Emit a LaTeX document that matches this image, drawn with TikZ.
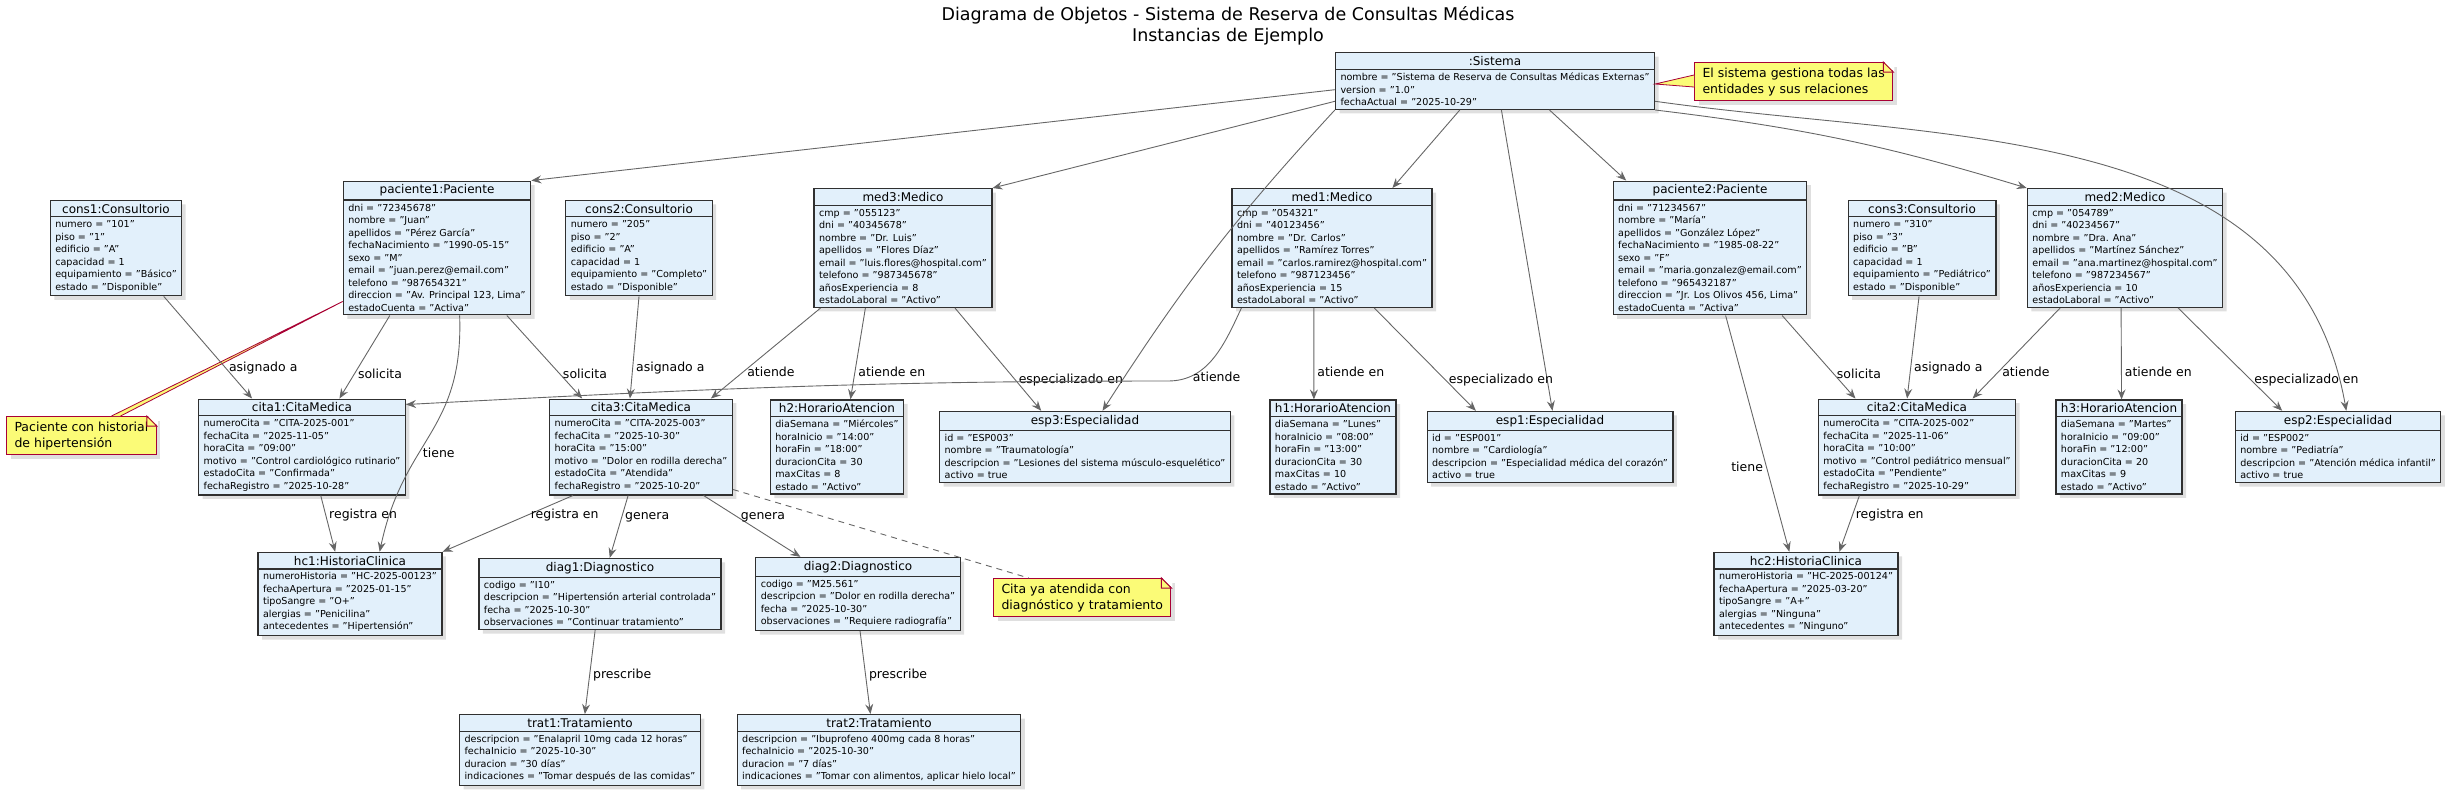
\documentclass[tikz,border=0pt]{standalone}
\usepackage{fontspec}
\setmainfont{DejaVu Sans}
\usetikzlibrary{
    shapes.multipart,
    shadows,
    arrows.meta,
    calc,
    positioning
}
\definecolor{objfill}{HTML}{E2F0FB}
\definecolor{objline}{HTML}{303030}
\definecolor{relline}{HTML}{666666}
\definecolor{notefill}{HTML}{FBFB77}
\definecolor{noteline}{HTML}{A80036}
\newcommand{\attrfont}{\fontsize{9.6}{12.5}\selectfont}
\newcommand{\headfont}{\fontsize{12}{14}\selectfont}
\newcommand{\lblfont}{\fontsize{12.5}{16}\selectfont}
\tikzset{
    obj/.style={rectangle split, rectangle split parts=2,
        rectangle split part align={center,left},
        draw=objline, fill=objfill, line width=1.3pt, align=left,
        inner xsep=5pt, inner ysep=3pt, font=\attrfont,
        drop shadow={shadow xshift=4pt, shadow yshift=-4pt, opacity=.25}},
    rel/.style={draw=relline, line width=.9pt,
        -{Stealth[length=10pt, width=8pt, inset=3.5pt]}},
    lbl/.style={font=\lblfont, inner sep=3pt},
    note/.style={draw=noteline, fill=notefill, line width=1pt, align=left,
        anchor=north west, inner xsep=8pt, inner ysep=5pt, font=\lblfont,
        drop shadow={shadow xshift=4pt, shadow yshift=-4pt, opacity=.25}},
    notelink/.style={draw=noteline, fill=notefill, line width=.8pt}
}
\newcommand{\objbox}[4]{\node[obj] (#1) at (#2) {{\headfont #3}\nodepart{two}#4};}
\newcommand{\notebox}[3]{%
    \node[note] (#1) at (#2) {#3};
    \fill[white] ([xshift=-10pt, yshift=1pt]#1.north east) -- ([xshift=1pt, yshift=1pt]#1.north east)
        -- ([xshift=1pt, yshift=-10pt]#1.north east) -- cycle;
    \draw[notelink, line width=1pt] ([xshift=-10pt]#1.north east) -- ([yshift=-10pt]#1.north east)
        -- ([xshift=-10pt, yshift=-10pt]#1.north east) -- cycle;
}

\begin{document}
\begin{tikzpicture}[x=1pt, y=-1pt]
\useasboundingbox (0,0) rectangle (2456,796);

\node[font=\fontsize{17.5}{21}\selectfont, align=center, anchor=north] (title) at (1228,3)
    {Diagrama de Objetos - Sistema de Reserva de Consultas Médicas\\Instancias de Ejemplo};

% sistema
\objbox{sis}{1495,81}{:Sistema}{nombre = "Sistema de Reserva de Consultas Médicas Externas"\\version = "1.0"\\fechaActual = "2025-10-29"}

% fila 1
\objbox{cons1}{116,248}{cons1:Consultorio}{numero = "101"\\piso = "1"\\edificio = "A"\\capacidad = 1\\equipamiento = "Básico"\\estado = "Disponible"}
\objbox{pac1}{437,248}{paciente1:Paciente}{dni = "72345678"\\nombre = "Juan"\\apellidos = "Pérez García"\\fechaNacimiento = "1990-05-15"\\sexo = "M"\\email = "juan.perez@email.com"\\telefono = "987654321"\\direccion = "Av. Principal 123, Lima"\\estadoCuenta = "Activa"}
\objbox{cons2}{639,248}{cons2:Consultorio}{numero = "205"\\piso = "2"\\edificio = "A"\\capacidad = 1\\equipamiento = "Completo"\\estado = "Disponible"}
\objbox{med3}{903,248}{med3:Medico}{cmp = "055123"\\dni = "40345678"\\nombre = "Dr. Luis"\\apellidos = "Flores Díaz"\\email = "luis.flores@hospital.com"\\telefono = "987345678"\\añosExperiencia = 8\\estadoLaboral = "Activo"}
\objbox{med1}{1332,248}{med1:Medico}{cmp = "054321"\\dni = "40123456"\\nombre = "Dr. Carlos"\\apellidos = "Ramírez Torres"\\email = "carlos.ramirez@hospital.com"\\telefono = "987123456"\\añosExperiencia = 15\\estadoLaboral = "Activo"}
\objbox{pac2}{1710,248}{paciente2:Paciente}{dni = "71234567"\\nombre = "María"\\apellidos = "González López"\\fechaNacimiento = "1985-08-22"\\sexo = "F"\\email = "maria.gonzalez@email.com"\\telefono = "965432187"\\direccion = "Jr. Los Olivos 456, Lima"\\estadoCuenta = "Activa"}
\objbox{cons3}{1922,248}{cons3:Consultorio}{numero = "310"\\piso = "3"\\edificio = "B"\\capacidad = 1\\equipamiento = "Pediátrico"\\estado = "Disponible"}
\objbox{med2}{2125,248}{med2:Medico}{cmp = "054789"\\dni = "40234567"\\nombre = "Dra. Ana"\\apellidos = "Martínez Sánchez"\\email = "ana.martinez@hospital.com"\\telefono = "987234567"\\añosExperiencia = 10\\estadoLaboral = "Activo"}

% fila 2
\objbox{cita1}{302,447}{cita1:CitaMedica}{numeroCita = "CITA-2025-001"\\fechaCita = "2025-11-05"\\horaCita = "09:00"\\motivo = "Control cardiológico rutinario"\\estadoCita = "Confirmada"\\fechaRegistro = "2025-10-28"}
\objbox{cita3}{641,447}{cita3:CitaMedica}{numeroCita = "CITA-2025-003"\\fechaCita = "2025-10-30"\\horaCita = "15:00"\\motivo = "Dolor en rodilla derecha"\\estadoCita = "Atendida"\\fechaRegistro = "2025-10-20"}
\objbox{h2}{837,447}{h2:HorarioAtencion}{diaSemana = "Miércoles"\\horaInicio = "14:00"\\horaFin = "18:00"\\duracionCita = 30\\maxCitas = 8\\estado = "Activo"}
\objbox{esp3}{1085,447}{esp3:Especialidad}{id = "ESP003"\\nombre = "Traumatología"\\descripcion = "Lesiones del sistema músculo-esquelético"\\activo = true}
\objbox{h1}{1333,447}{h1:HorarioAtencion}{diaSemana = "Lunes"\\horaInicio = "08:00"\\horaFin = "13:00"\\duracionCita = 30\\maxCitas = 10\\estado = "Activo"}
\objbox{esp1}{1550,447}{esp1:Especialidad}{id = "ESP001"\\nombre = "Cardiología"\\descripcion = "Especialidad médica del corazón"\\activo = true}
\objbox{cita2}{1917,447}{cita2:CitaMedica}{numeroCita = "CITA-2025-002"\\fechaCita = "2025-11-06"\\horaCita = "10:00"\\motivo = "Control pediátrico mensual"\\estadoCita = "Pendiente"\\fechaRegistro = "2025-10-29"}
\objbox{h3}{2119,447}{h3:HorarioAtencion}{diaSemana = "Martes"\\horaInicio = "09:00"\\horaFin = "12:00"\\duracionCita = 20\\maxCitas = 9\\estado = "Activo"}
\objbox{esp2}{2338,447}{esp2:Especialidad}{id = "ESP002"\\nombre = "Pediatría"\\descripcion = "Atención médica infantil"\\activo = true}

% fila 3
\objbox{hc1}{350,594}{hc1:HistoriaClinica}{numeroHistoria = "HC-2025-00123"\\fechaApertura = "2025-01-15"\\tipoSangre = "O+"\\alergias = "Penicilina"\\antecedentes = "Hipertensión"}
\objbox{diag1}{600,594}{diag1:Diagnostico}{codigo = "I10"\\descripcion = "Hipertensión arterial controlada"\\fecha = "2025-10-30"\\observaciones = "Continuar tratamiento"}
\objbox{diag2}{858,594}{diag2:Diagnostico}{codigo = "M25.561"\\descripcion = "Dolor en rodilla derecha"\\fecha = "2025-10-30"\\observaciones = "Requiere radiografía"}
\objbox{hc2}{1806,594}{hc2:HistoriaClinica}{numeroHistoria = "HC-2025-00124"\\fechaApertura = "2025-03-20"\\tipoSangre = "A+"\\alergias = "Ninguna"\\antecedentes = "Ninguno"}

% fila 4
\objbox{trat1}{580,750}{trat1:Tratamiento}{descripcion = "Enalapril 10mg cada 12 horas"\\fechaInicio = "2025-10-30"\\duracion = "30 días"\\indicaciones = "Tomar después de las comidas"}
\objbox{trat2}{879,750}{trat2:Tratamiento}{descripcion = "Ibuprofeno 400mg cada 8 horas"\\fechaInicio = "2025-10-30"\\duracion = "7 días"\\indicaciones = "Tomar con alimentos, aplicar hielo local"}

% notas
\notebox{nsis}{1694,62}{El sistema gestiona todas las\\entidades y sus relaciones}
\notebox{npac}{6,416}{Paciente con historial\\de hipertensión}
\notebox{ncita}{993,578}{Cita ya atendida con\\diagnóstico y tratamiento}
\filldraw[notelink] ($(nsis.north west)+(0,13)$) -- ($(sis.north east)+(0,32)$) -- ($(nsis.north west)+(0,25)$);
\filldraw[notelink] ($(npac.north west)!.70!(npac.north east)$) -- ($(pac1.south west)+(0,-14)$) -- ($(npac.north west)!.76!(npac.north east)$);
\draw[relline, line width=.9pt, dash pattern=on 6pt off 5pt] ($(cita3.south east)+(0,-6)$) -- ($(ncita.north west)!.2!(ncita.north east)$);

% sistema -> objetos
\draw[rel] ($(sis.north west)!.65!(sis.south west)$) -- (pac1.north east);
\draw[rel] ($(sis.north west)!.85!(sis.south west)$) -- (med3.north east);
\draw[rel] (sis.south west) to[bend right=5] ($(esp3.north west)!.56!(esp3.north east)$);
\draw[rel] ($(sis.south west)!.39!(sis.south east)$) -- ($(med1.north west)!.8!(med1.north east)$);
\draw[rel] ($(sis.south west)!.52!(sis.south east)$) -- ($(esp1.north west)!.51!(esp1.north east)$);
\draw[rel] ($(sis.south west)!.67!(sis.south east)$) -- ($(pac2.north west)!.07!(pac2.north east)$);
\draw[rel] (sis.south east) to[bend left=5] (med2.north west);
\draw[rel] ($(sis.north east)!.85!(sis.south east)$) to[out=-8, in=100] ($(esp2.north west)!.54!(esp2.north east)$);

% fila 1 -> fila 2
\coordinate (via1) at (1168,381);
\draw[rel] ($(cons1.south west)!.86!(cons1.south east)$) -- node[lbl, pos=.7, right] (lcons1) {asignado a} ($(cita1.north west)!.26!(cita1.north east)$);
\draw[rel] ($(pac1.south west)!.25!(pac1.south east)$) -- node[lbl, pos=.7, right] (lpac1a) {solicita} ($(cita1.north west)!.68!(cita1.north east)$);
\draw[rel] ($(pac1.south west)!.62!(pac1.south east)$) to[out=-88, in=78, looseness=1.2] node[lbl, pos=.6, right] (lpac1b) {tiene} ($(hc1.north west)!.66!(hc1.north east)$);
\draw[rel] ($(pac1.south west)!.87!(pac1.south east)$) -- node[lbl, pos=.7, right] (lpac1c) {solicita} ($(cita3.north west)!.18!(cita3.north east)$);
\draw[rel] (cons2.south) -- node[lbl, pos=.7, right] (lcons2) {asignado a} ($(cita3.north west)!.44!(cita3.north east)$);
\draw[rel] ($(med3.south west)!.04!(med3.south east)$) -- node[lbl, pos=.7, right] (lmed3a) {atiende} ($(cita3.north west)!.88!(cita3.north east)$);
\draw[rel] ($(med3.south west)!.29!(med3.south east)$) -- node[lbl, pos=.7, right] (lmed3b) {atiende en} ($(h2.north west)!.6!(h2.north east)$);
\draw[rel] ($(med3.south west)!.79!(med3.south east)$) -- node[lbl, pos=.7, right] (lmed3c) {especializado en} ($(esp3.north west)!.35!(esp3.north east)$);
\draw[rel] ($(med1.south west)!.05!(med1.south east)$) to[out=245, in=0] node[lbl, pos=.8, right] (lmed1a) {atiende} (via1) to[out=180, in=3] ($(cita1.north east)+(0,6)$);
\draw[rel] ($(med1.south west)!.41!(med1.south east)$) -- node[lbl, pos=.7, right] (lmed1b) {atiende en} ($(h1.north west)!.35!(h1.north east)$);
\draw[rel] ($(med1.south west)!.71!(med1.south east)$) -- node[lbl, pos=.7, right] (lmed1c) {especializado en} ($(esp1.north west)!.2!(esp1.north east)$);
\draw[rel] ($(pac2.south west)!.87!(pac2.south east)$) -- node[lbl, pos=.7, right] (lpac2a) {solicita} ($(cita2.north west)!.19!(cita2.north east)$);
\draw[rel] ($(pac2.south west)!.58!(pac2.south east)$) -- node[lbl, pos=.64, left] (lpac2b) {tiene} ($(hc2.north west)!.41!(hc2.north east)$);
\draw[rel] ($(cons3.south west)!.48!(cons3.south east)$) -- node[lbl, pos=.7, right] (lcons3) {asignado a} ($(cita2.north west)!.45!(cita2.north east)$);
\draw[rel] ($(med2.south west)!.17!(med2.south east)$) -- node[lbl, pos=.7, right] (lmed2a) {atiende} ($(cita2.north west)!.78!(cita2.north east)$);
\draw[rel] ($(med2.south west)!.48!(med2.south east)$) -- node[lbl, pos=.7, right] (lmed2b) {atiende en} ($(h3.north west)!.52!(h3.north east)$);
\draw[rel] ($(med2.south west)!.77!(med2.south east)$) -- node[lbl, pos=.7, right] (lmed2c) {especializado en} ($(esp2.north west)!.23!(esp2.north east)$);

% fila 2 -> fila 3
\draw[rel] ($(cita1.south west)!.59!(cita1.south east)$) -- node[lbl, pos=.35, right] (lcita1) {registra en} ($(hc1.north west)!.42!(hc1.north east)$);
\draw[rel] ($(cita3.south west)!.13!(cita3.south east)$) -- node[lbl, pos=.35, right] (lcita3a) {registra en} (hc1.north east);
\draw[rel] ($(cita3.south west)!.43!(cita3.south east)$) -- node[lbl, pos=.35, right] (lcita3b) {genera} ($(diag1.north west)!.54!(diag1.north east)$);
\draw[rel] ($(cita3.south west)!.84!(cita3.south east)$) -- node[lbl, pos=.35, right] (lcita3c) {genera} ($(diag2.north west)!.22!(diag2.north east)$);
\draw[rel] ($(cita2.south west)!.21!(cita2.south east)$) -- node[lbl, pos=.35, right] (lcita2) {registra en} ($(hc2.north west)!.68!(hc2.north east)$);

% fila 3 -> fila 4
\draw[rel] ($(diag1.south west)!.48!(diag1.south east)$) -- node[lbl, pos=.53, right] (ldiag1) {prescribe} ($(trat1.north west)!.52!(trat1.north east)$);
\draw[rel] ($(diag2.south west)!.51!(diag2.south east)$) -- node[lbl, pos=.53, right] (ldiag2) {prescribe} ($(trat2.north west)!.47!(trat2.north east)$);
\end{tikzpicture}
\end{document}
